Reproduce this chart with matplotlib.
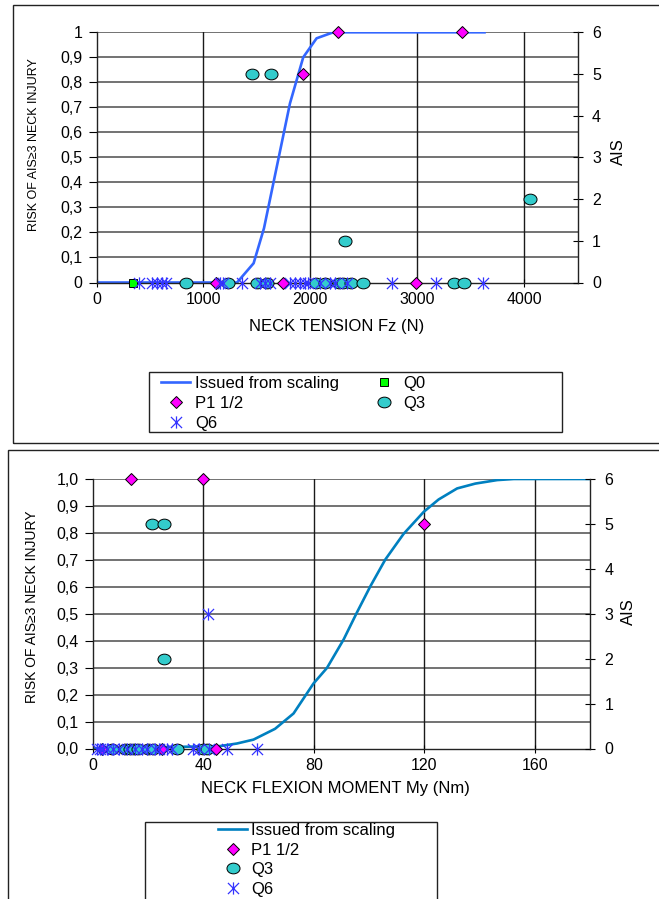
import numpy as np
import matplotlib
matplotlib.use("Agg")
import matplotlib.pyplot as plt
from matplotlib.path import Path
from matplotlib.patches import Rectangle

plt.rcParams['font.family'] = ['Liberation Sans', 'DejaVu Sans']

# ---------------- data: neck tension ----------------
fz_curve = [0, 1315, 1470, 1567, 1810, 1934, 2059, 2215, 3630]
fz_curve_risk = [0, 0, 0.077, 0.217, 0.716, 0.90, 0.976, 1.0, 1.0]

fz_p1 = [1119, 1742, 1934, 2256, 2985, 3424]
fz_p1_ais = [0, 0, 5, 6, 0, 6]
fz_q0 = [346]
fz_q0_ais = [0]
fz_q3 = [838, 1234, 1459, 1499, 1598, 1630, 2053, 2137, 2268, 2309,
         2324, 2378, 2495, 3346, 3439, 4053]
fz_q3_ais = [0, 0, 5, 0, 0, 5, 0, 0, 0, 0, 1, 0, 0, 0, 0, 2]
fz_q6 = [393, 518, 570, 611, 651, 1156, 1187, 1359, 1530, 1577, 1623,
         1810, 1857, 1903, 1950, 1981, 2091, 2184, 2231, 2340, 2766, 3172, 3617]
fz_q6_ais = [0] * len(fz_q6)

fz_ticks = [0, 1000, 2000, 3000, 4000]
risk_ticks = [0, 0.1, 0.2, 0.3, 0.4, 0.5, 0.6, 0.7, 0.8, 0.9, 1.0]
risk_labels_top = ["0", "0,1", "0,2", "0,3", "0,4", "0,5", "0,6", "0,7", "0,8", "0,9", "1"]

# ---------------- data: neck flexion moment ----------------
my_curve = [0, 46.1, 52.2, 58.2, 66.0, 72.7, 79.9, 84.8, 90.8, 95.6, 100.5,
            105.9, 112.5, 119.8, 125.2, 131.9, 138.5, 146.4, 152.4, 180]
my_curve_risk = [0, 0.009, 0.0185, 0.033, 0.073, 0.130, 0.241, 0.299, 0.404,
                 0.504, 0.602, 0.701, 0.796, 0.878, 0.924, 0.965, 0.983, 0.996, 1.0, 1.0]

my_p1 = [3.3, 13.8, 25.0, 40.1, 44.7, 120.0]
my_p1_ais = [0, 6, 0, 6, 0, 5]
my_q3 = [6.9, 11.7, 13.5, 15.0, 16.5, 20.1, 21.6, 21.7, 25.9, 25.9, 30.4, 40.1, 41.3]
my_q3_ais = [0, 0, 0, 0, 0, 0, 5, 0, 5, 2, 0, 0, 0]
my_q6 = [1.4, 2.6, 3.8, 5.1, 7.5, 9.6, 12.3, 15.3, 17.8, 19.6, 22.6, 24.1,
         26.8, 28.6, 36.4, 38.3, 41.6, 42.2, 48.5, 59.4]
my_q6_ais = [0] * 16 + [3, 0, 0, 0]

my_ticks = [0, 40, 80, 120, 160]
risk_labels_bottom = ["0,0", "0,1", "0,2", "0,3", "0,4", "0,5", "0,6", "0,7", "0,8", "0,9", "1,0"]
ais_ticks = [0, 1, 2, 3, 4, 5, 6]
ais_labels = ["0", "1", "2", "3", "4", "5", "6"]

# ---------------- styling helpers ----------------
W, H = 659, 899
fig = plt.figure(figsize=(W / 100, H / 100), dpi=100)
fig.patch.set_facecolor('white')


def fx(px):
    return px / W


def fy(py):
    return 1 - py / H


def pix_axes(left, top, right, bottom):
    return fig.add_axes([fx(left), fy(bottom), (right - left) / W, (bottom - top) / H])


# oval marker, asterisk marker
ellipse = Path.unit_circle().transformed(matplotlib.transforms.Affine2D().scale(1.0, 0.82))
star = Path([(-1, -1), (1, 1), (-1, 1), (1, -1), (0, -1.1), (0, 1.1)],
            [Path.MOVETO, Path.LINETO, Path.MOVETO, Path.LINETO, Path.MOVETO, Path.LINETO])

P1_STYLE = dict(marker='D', ms=6.4, mfc='#FF00FF', mec='black', mew=0.7, ls='none')
Q0_STYLE = dict(marker='s', ms=6.2, mfc='#00FF00', mec='black', mew=0.7, ls='none')
Q3_STYLE = dict(marker=ellipse, ms=9.4, mfc='#33CCCC', mec='black', mew=0.7, ls='none')
Q6_STYLE = dict(marker=star, ms=8.8, mfc='none', mec='#3333FF', mew=0.9, ls='none')

TICK_FS = 11.5
LABEL_FS = 12


def style_axes(ax, axr, xmax, xticks, ylabels):
    ax.set_xlim(0, xmax)
    ax.set_ylim(0, 1)
    axr.set_ylim(0, 6)
    ax.set_xticks(xticks)
    ax.set_yticks(risk_ticks)
    ax.set_yticklabels(ylabels)
    axr.set_yticks(ais_ticks)
    axr.set_yticklabels(ais_labels)
    for a in (ax, axr):
        a.spines['top'].set_visible(False)
        for s in a.spines.values():
            s.set_color('#222222')
            s.set_linewidth(1.0)
    axr.spines['left'].set_visible(False)
    axr.spines['bottom'].set_visible(False)
    ax.spines['right'].set_visible(False)
    ax.tick_params(axis='y', direction='out', length=5.5, width=0.8,
                   pad=4.5, labelsize=TICK_FS, colors='black')
    ax.tick_params(axis='x', direction='inout', length=6, width=0.8,
                   pad=4.0, labelsize=TICK_FS, colors='black')
    axr.tick_params(axis='y', direction='inout', length=7, width=0.8,
                    pad=7.0, labelsize=TICK_FS, colors='black')
    for y in risk_ticks[1:]:
        ax.axhline(y, color='#5a5a5a', lw=1.2, zorder=0.5)
    for x in xticks[1:]:
        ax.axvline(x, color='#1a1a1a', lw=1.0, zorder=0.6)


# ================= top chart: neck tension =================
ax1 = pix_axes(96.5, 32.3, 577.5, 282.5)
ax1r = ax1.twinx()
style_axes(ax1, ax1r, 4500, fz_ticks, risk_labels_top)

c1, = ax1.plot(fz_curve, fz_curve_risk, color='#3366FF', lw=1.9, zorder=2,
               label='Issued from scaling')
h_q3, = ax1r.plot(fz_q3, fz_q3_ais, clip_on=False, zorder=3, label='Q3', **Q3_STYLE)
h_p1, = ax1r.plot(fz_p1, fz_p1_ais, clip_on=False, zorder=4, label='P1 1/2', **P1_STYLE)
h_q0, = ax1r.plot(fz_q0, fz_q0_ais, clip_on=False, zorder=4, label='Q0', **Q0_STYLE)
h_q6, = ax1r.plot(fz_q6, fz_q6_ais, clip_on=False, zorder=5, label='Q6', **Q6_STYLE)

ax1.set_xlabel('NECK TENSION Fz (N)', fontsize=LABEL_FS, va='center')
ax1.xaxis.set_label_coords(0.5, (282.5 - 327) / 250.2)
ax1.set_ylabel('RISK OF AIS≥3 NECK INJURY', fontsize=9, va='center')
ax1.yaxis.set_label_coords((34 - 96.5) / 481, (282.5 - 145) / 250.2)
ax1r.set_ylabel('AIS', fontsize=LABEL_FS, va='center', rotation=90)
ax1r.yaxis.set_label_coords((618 - 96.5) / 481, (282.5 - 152) / 250.2)

fig.legend(handles=[c1, h_p1, h_q6, h_q0, h_q3],
           labels=['Issued from scaling', 'P1 1/2', 'Q6', 'Q0', 'Q3'],
           ncol=2, loc='upper left', bbox_to_anchor=(fx(161), fy(376)),
           frameon=False, fontsize=LABEL_FS, borderpad=0, borderaxespad=0,
           handlelength=1.75, handletextpad=0.3, columnspacing=1.8,
           labelspacing=0.3, numpoints=1)

# ================= bottom chart: neck flexion moment =================
ax2 = pix_axes(92.7, 479, 590, 748.5)
ax2r = ax2.twinx()
style_axes(ax2, ax2r, 180, my_ticks, risk_labels_bottom)

c2, = ax2.plot(my_curve, my_curve_risk, color='#0080C0', lw=1.9, zorder=2,
               label='Issued from scaling')
g_q3, = ax2r.plot(my_q3, my_q3_ais, clip_on=False, zorder=3, label='Q3', **Q3_STYLE)
g_p1, = ax2r.plot(my_p1, my_p1_ais, clip_on=False, zorder=4, label='P1 1/2', **P1_STYLE)
g_q6, = ax2r.plot(my_q6, my_q6_ais, clip_on=False, zorder=5, label='Q6', **Q6_STYLE)

ax2.set_xlabel('NECK FLEXION MOMENT My (Nm)', fontsize=LABEL_FS, va='center')
ax2.xaxis.set_label_coords((335 - 92.7) / 497.3, (748.5 - 789) / 269.5)
ax2.set_ylabel('RISK OF AIS≥3 NECK INJURY', fontsize=10, va='center')
ax2.yaxis.set_label_coords((32 - 92.7) / 497.3, (748.5 - 607) / 269.5)
ax2r.set_ylabel('AIS', fontsize=LABEL_FS, va='center', rotation=90)
ax2r.yaxis.set_label_coords((628 - 92.7) / 497.3, (748.5 - 612) / 269.5)

fig.legend(handles=[c2, g_p1, g_q3, g_q6],
           labels=['Issued from scaling', 'P1 1/2', 'Q3', 'Q6'],
           ncol=1, loc='upper left', bbox_to_anchor=(fx(218), fy(823)),
           frameon=False, fontsize=LABEL_FS, borderpad=0, borderaxespad=0,
           handlelength=1.75, handletextpad=0.25,
           labelspacing=0.28, numpoints=1)

# ================= frames =================
frames = [
    (13, 5, 680, 443),      # top chart
    (8, 450, 680, 920),     # bottom chart
    (149, 372, 562, 432),   # top legend
    (145, 822, 437, 920),   # bottom legend
]
for l, t, r, b in frames:
    fig.add_artist(Rectangle((fx(l), fy(b)), (r - l) / W, (b - t) / H,
                             transform=fig.transFigure, fill=False,
                             ec='#222222', lw=1.0, clip_on=False))

fig.savefig('out.png', dpi=100, facecolor='white')
